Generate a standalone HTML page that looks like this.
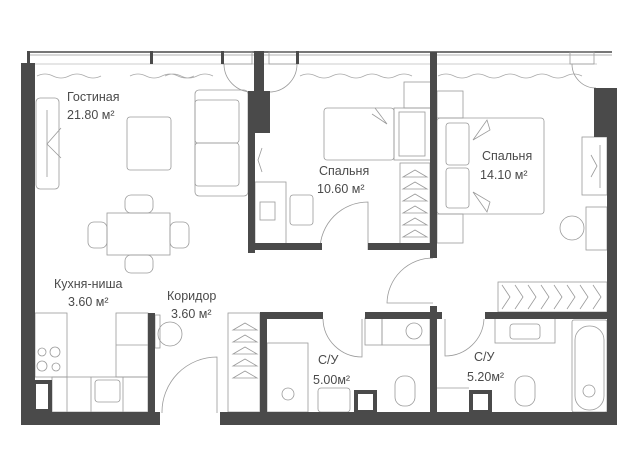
<!DOCTYPE html>
<html><head><meta charset="utf-8"><style>
html,body{margin:0;padding:0;background:#fff;}
svg{display:block}
text{font-family:"Liberation Sans","DejaVu Sans",sans-serif;font-size:12.5px;fill:#4a4a4a;}
</style></head><body>
<svg width="637" height="450" viewBox="0 0 637 450" xmlns="http://www.w3.org/2000/svg">
<g fill="none" stroke="#9a9a9a" stroke-width="0.8">
<line x1="27" y1="52" x2="612" y2="52" stroke="#777" stroke-width="2"/>
<line x1="27" y1="55" x2="612" y2="55" stroke="#999"/>
<line x1="35" y1="64" x2="597" y2="64" stroke="#bbb"/>
<path d="M37 76 q8 -4 16 0 t16 0 t16 0 t16 0 M130 76 q8 -4 16 0 t16 0 t16 0 t16 0 M165 76 q8 -4 16 0 t16 0 t16 0 M300 76 q8 -4 16 0 t16 0 t16 0 t16 0 t16 0 t16 0 t16 0 M438 76 q8 -4 16 0 t16 0 t16 0 t16 0 t16 0 t16 0 t16 0 t16 0 t16 0" stroke="#aaa"/>
<rect x="223" y="52" width="29" height="12"/><rect x="269" y="52" width="29" height="12"/><rect x="570" y="52" width="24" height="12"/>
<path d="M224 64 A28 28 0 0 0 252 92 M297 64 A28 28 0 0 1 269 92 M572 64 A24 24 0 0 0 596 88"/>
<rect x="36" y="98" width="23" height="91" rx="4"/><line x1="47" y1="110" x2="47" y2="177"/><path d="M61 128 L47 144 L61 158"/>
<rect x="127" y="117" width="44" height="53" rx="3"/>
<rect x="195" y="90" width="53" height="106" rx="4"/><rect x="195" y="100" width="44" height="43" rx="3"/><rect x="195" y="143" width="44" height="43" rx="3"/>
<rect x="107" y="213" width="63" height="42"/>
<rect x="125" y="195" width="28" height="18" rx="6"/><rect x="125" y="255" width="28" height="18" rx="6"/>
<rect x="88" y="222" width="19" height="26" rx="6"/><rect x="170" y="222" width="19" height="26" rx="6"/>
<path d="M262 148 L258 160 L262 172"/>
<rect x="255" y="182" width="31" height="63"/><rect x="260" y="202" width="15" height="18"/>
<rect x="290" y="195" width="23" height="30" rx="3"/>
<rect x="324" y="108" width="70" height="52" rx="3"/><path d="M375 108 L387 124 L372 114"/>
<rect x="394" y="108" width="37" height="52"/><rect x="399" y="112" width="26" height="44"/>
<rect x="404" y="82" width="27" height="26"/>
<rect x="400" y="163" width="30" height="85"/>
<path d="M403 177 l12 -7 l12 7 Z M403 189 l12 -7 l12 7 Z M403 201 l12 -7 l12 7 Z M403 213 l12 -7 l12 7 Z M403 225 l12 -7 l12 7 Z M403 237 l12 -7 l12 7 Z"/>
<path d="M368 250 L368 202 A48 48 0 0 0 320 250"/>
<rect x="437" y="118" width="107" height="96" rx="3"/>
<rect x="446" y="123" width="23" height="42" rx="3"/><rect x="446" y="168" width="23" height="40" rx="3"/>
<path d="M473 140 L487 120 L490 130 Z M473 192 L487 212 L490 202 Z"/>
<rect x="437" y="91" width="26" height="27"/><rect x="437" y="214" width="26" height="29"/>
<rect x="582" y="137" width="25" height="58"/><line x1="600" y1="145" x2="600" y2="188"/><path d="M591 155 L597 166 L591 177"/>
<rect x="586" y="207" width="21" height="43"/>
<circle cx="572" cy="228" r="12"/>
<rect x="498" y="282" width="109" height="30"/>
<path d="M502 285 l8 12 l-8 12 M515 285 l8 12 l-8 12 M528 285 l8 12 l-8 12 M541 285 l8 12 l-8 12 M554 285 l8 12 l-8 12 M567 285 l8 12 l-8 12 M580 285 l8 12 l-8 12 M593 285 l8 12 l-8 12"/>
<path d="M433 258 A46 46 0 0 0 387 303 L433 303"/>
<circle cx="170" cy="334" r="12"/><rect x="155" y="315" width="5" height="33"/>
<rect x="228" y="313" width="32" height="99"/>
<path d="M233 330 l12 -7 l12 7 Z M233 342 l12 -7 l12 7 Z M233 354 l12 -7 l12 7 Z M233 366 l12 -7 l12 7 Z M233 378 l12 -7 l12 7 Z"/>
<path d="M162 413 A55 55 0 0 1 217 357 L217 413"/>
<rect x="35" y="313" width="32" height="64"/><rect x="116" y="313" width="32" height="64"/><line x1="116" y1="345" x2="148" y2="345"/>
<rect x="52" y="377" width="96" height="35"/><line x1="67" y1="377" x2="67" y2="412"/><line x1="91" y1="377" x2="91" y2="412"/><line x1="123" y1="377" x2="123" y2="412"/>
<circle cx="42" cy="352" r="4"/><circle cx="55" cy="352" r="5"/><circle cx="42" cy="366" r="5"/><circle cx="56" cy="367" r="4"/>
<rect x="95" y="380" width="25" height="22" rx="3"/>
<rect x="365" y="318" width="17" height="27"/><rect x="382" y="318" width="48" height="27"/><circle cx="414" cy="331" r="8"/>
<rect x="267" y="343" width="41" height="69"/><circle cx="288" cy="394" r="6"/>
<rect x="318" y="388" width="32" height="24" rx="3"/>
<rect x="395" y="376" width="20" height="30" rx="9"/>
<path d="M323 319 A39 39 0 0 0 362 357 L362 319"/>
<rect x="495" y="318" width="60" height="25"/><rect x="510" y="324" width="30" height="15" rx="3"/>
<rect x="572" y="320" width="35" height="92" rx="2"/><rect x="575" y="326" width="29" height="84" rx="14"/><circle cx="589" cy="391" r="6"/>
<rect x="515" y="376" width="20" height="30" rx="9"/>
<path d="M445 319 L445 356 A39 39 0 0 0 484 319"/>
<line x1="437" y1="388" x2="469" y2="388"/>
</g>
<g fill="#4a4a4a">
<rect x="21" y="63" width="14" height="362"/>
<rect x="21" y="412" width="139" height="13"/>
<rect x="220" y="412" width="397" height="13"/>
<rect x="607" y="88" width="10" height="337"/>
<rect x="594" y="88" width="21" height="49"/>
<rect x="254" y="51" width="10" height="40"/>
<rect x="248" y="91" width="22" height="42"/>
<rect x="248" y="133" width="7" height="120"/>
<rect x="248" y="243" width="74" height="7"/>
<rect x="368" y="243" width="69" height="7"/>
<rect x="430" y="52" width="7" height="206"/>
<rect x="430" y="306" width="7" height="106"/>
<rect x="260" y="312" width="63" height="7"/>
<rect x="365" y="312" width="77" height="7"/>
<rect x="485" y="312" width="122" height="7"/>
<rect x="260" y="312" width="7" height="100"/>
<rect x="148" y="313" width="7" height="100"/>
<rect x="221" y="51" width="3" height="13"/><rect x="296" y="51" width="3" height="13"/><rect x="150" y="51" width="3" height="13"/><rect x="27" y="51" width="3" height="13"/>
</g>
<g fill="#fff" stroke="#4a4a4a" stroke-width="4">
<rect x="34" y="382" width="16" height="29"/>
<rect x="356" y="392" width="19" height="20"/>
<rect x="471" y="392" width="19" height="20"/>
</g>
<text x="67" y="101">Гостиная</text><text x="67" y="119">21.80 м²</text>
<text x="319" y="175">Спальня</text><text x="317" y="193">10.60 м²</text>
<text x="482" y="160">Спальня</text><text x="480" y="179">14.10 м²</text>
<text x="54" y="288">Кухня-ниша</text><text x="68" y="306">3.60 м²</text>
<text x="167" y="300">Коридор</text><text x="171" y="318">3.60 м²</text>
<text x="318" y="364">С/У</text><text x="313" y="384">5.00м²</text>
<text x="474" y="361">С/У</text><text x="467" y="381">5.20м²</text>
</svg>
</body></html>
